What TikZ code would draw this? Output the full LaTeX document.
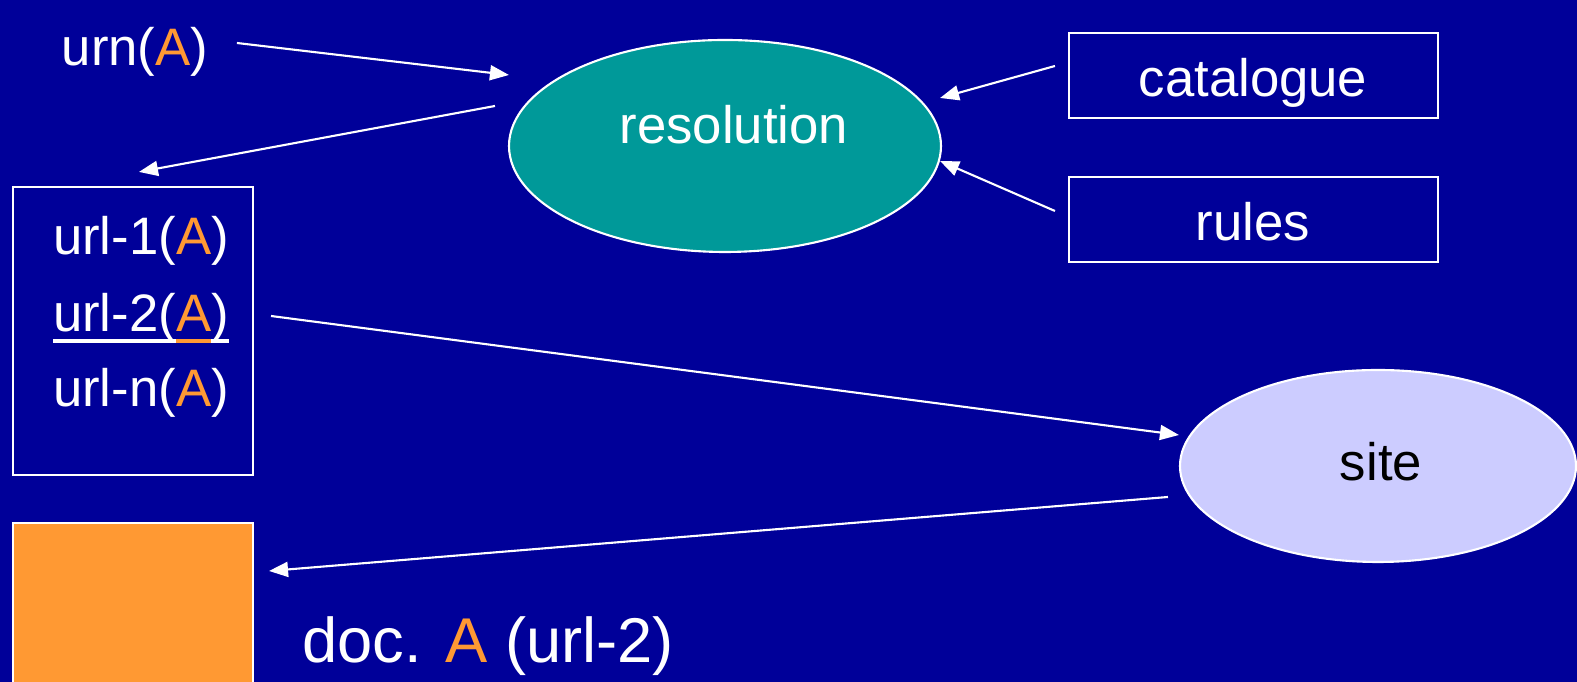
\documentclass[tikz,border=0pt]{standalone}
\usepackage{fontspec}
\setmainfont{Liberation Sans}
\usetikzlibrary{shapes.geometric,arrows.meta}
\definecolor{slidebg}{HTML}{000099}
\definecolor{resfill}{HTML}{009999}
\definecolor{sitefill}{HTML}{CCCCFF}
\definecolor{docorange}{HTML}{FF9933}
\newcommand{\docA}{\textcolor{docorange}{A}}
\newsavebox{\ulbox}
\newcommand{\ulpart}[1]{\sbox\ulbox{#1}\rlap{\usebox\ulbox}\rule[-3pt]{\wd\ulbox}{0.9pt}}
\tikzset{
  txt/.style={text=white, inner sep=0pt, font=\fontsize{15}{18}\selectfont},
  boxw/.style={rectangle, draw=white, line width=0.6pt, inner sep=0pt},
  oval/.style={ellipse, draw=white, line width=0.6pt, inner sep=0pt},
  arr/.style={draw=white, line width=0.6pt, -{Triangle[length=1.9mm,width=1.5mm]}},
}

\begin{document}
\begin{tikzpicture}[x=0.1mm, y=-0.1mm]
\useasboundingbox (0,0) rectangle (1577,682);
\fill[slidebg] (0,0) rectangle (1577,682);
\clip (0,0) rectangle (1577,682);

% resolution with its two sources
\node[oval, fill=resfill, minimum width=43.2mm, minimum height=21.2mm] (res) at (725,146) {};
\node[txt, anchor=base] (restxt) at (734,144) {resolution};
\node[boxw, minimum width=36.9mm, minimum height=8.5mm] (cat) at (1253.5,75.5) {};
\node[txt, anchor=base] (cattxt) at (1253,97) {catalogue};
\node[boxw, minimum width=36.9mm, minimum height=8.5mm] (rul) at (1253.5,219.5) {};
\node[txt, anchor=base] (rultxt) at (1253,241) {rules};

% site
\node[oval, fill=sitefill, minimum width=39.6mm, minimum height=19.2mm] (site) at (1378,466) {};
\node[txt, text=black, anchor=base] (sitetxt) at (1381,481) {site};

% urn and the url list
\node[txt, anchor=base] (urn) at (135,66) {urn(\docA)};
\node[boxw, minimum width=24mm, minimum height=28.8mm] (urls) at (133,331) {};
\node[txt, anchor=base] (url1) at (141,255) {url-1(\docA)};
\node[txt, anchor=base] (url2) at (141,332) {\ulpart{url-2(}\textcolor{docorange}{\ulpart{A}}\ulpart{)}};
\node[txt, anchor=base] (urln) at (141,407) {url-n(\docA)};

% the document
\node[boxw, fill=docorange, minimum width=24mm, minimum height=20mm] (doc) at (133,623) {};
\node[txt, font=\fontsize{18}{22}\selectfont, anchor=base] (doctxt) at (488,663) {doc. \docA{} (url-2)};

\draw[arr] ([shift={(28,-23)}]urn.base east) -- ([shift={(1,-71)}]res.west);
\draw[arr] ([shift={(-13,-40)}]res.west) -- ([shift={(6,-14)}]urls.north);
\draw[arr] ([shift={(-13,-9.5)}]cat.west) -- ([shift={(-2,-48)}]res.east);
\draw[arr] ([shift={(-13,-8.5)}]rul.west) -- ([shift={(-2,15)}]res.east);
\draw[arr] ([shift={(17,-15)}]urls.east) -- ([shift={(0,-31)}]site.west);
\draw[arr] ([shift={(-11,31)}]site.west) -- ([shift={(15,-52)}]doc.east);

\end{tikzpicture}
\end{document}
